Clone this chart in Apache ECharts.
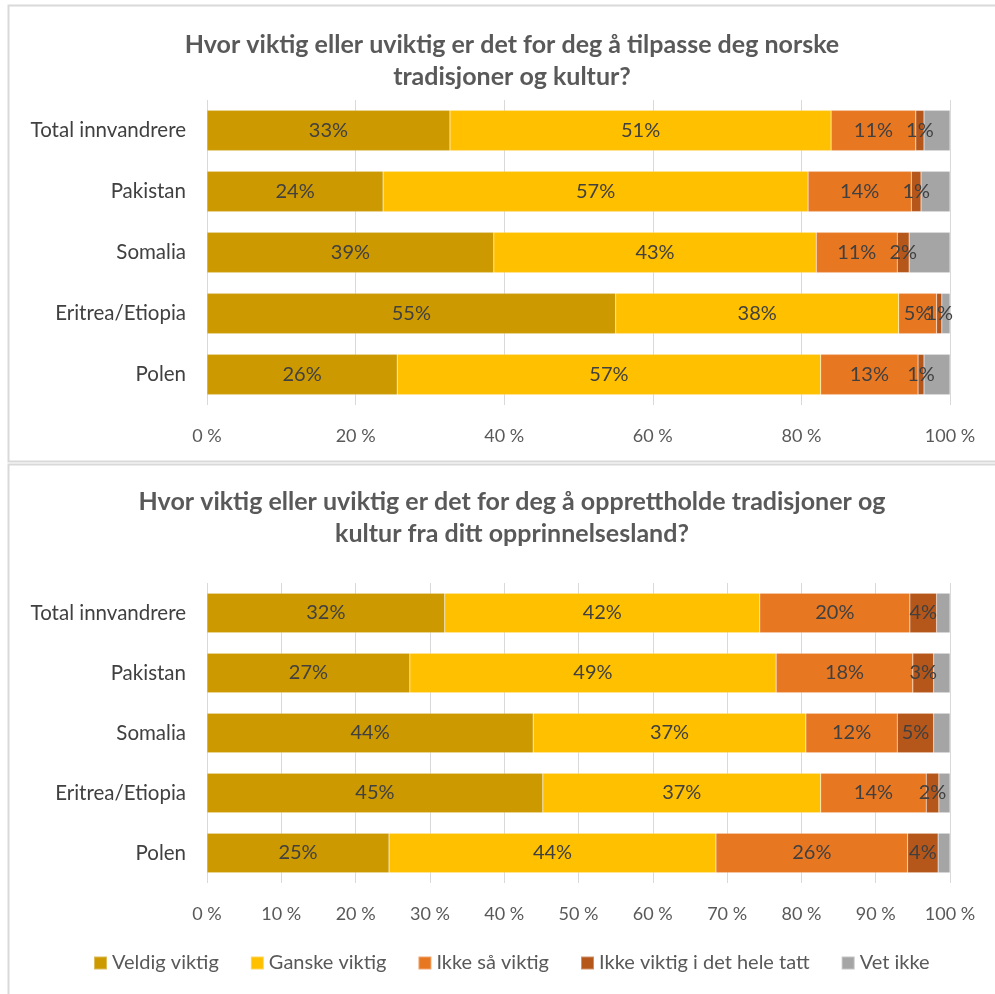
<!DOCTYPE html>
<html><head><meta charset="utf-8">
<script src="https://cdn.jsdelivr.net/npm/echarts@6/dist/echarts.min.js"></script>
<style>html,body{margin:0;padding:0;background:#fff}#c{width:995px;height:994px}</style>
</head><body><div id="c"></div>
<script>
const categories = ['Total innvandrere','Pakistan','Somalia','Eritrea/Etiopia','Polen'];
const seriesNames = ['Veldig viktig','Ganske viktig','Ikke så viktig','Ikke viktig i det hele tatt','Vet ikke'];
const colors = ['#CC9900','#FFC000','#E87722','#B5561A','#A5A5A5'];
const title1 = 'Hvor viktig eller uviktig er det for deg å tilpasse deg norske\ntradisjoner og kultur?';
const title2 = 'Hvor viktig eller uviktig er det for deg å opprettholde tradisjoner og\nkultur fra ditt opprinnelsesland?';
// Top chart values (%), per category order
const top_veldig  = [32.7, 23.7, 38.6, 55.0, 25.6];
const top_ganske  = [51.3, 57.2, 43.4, 38.1, 57.0];
const top_ikkeSaa = [11.4, 13.9, 10.9, 5.1, 13.1];
const top_ikke    = [1.1, 1.3, 1.6, 0.7, 0.8];
const top_vet     = [3.5, 3.9, 5.5, 1.1, 3.5];
// Bottom chart values (%)
const bot_veldig  = [32.0, 27.3, 43.9, 45.2, 24.5];
const bot_ganske  = [42.4, 49.3, 36.7, 37.4, 44.0];
const bot_ikkeSaa = [20.2, 18.4, 12.3, 14.2, 25.8];
const bot_ikke    = [3.6, 2.8, 4.9, 1.7, 4.1];
const bot_vet     = [1.8, 2.2, 2.2, 1.5, 1.6];
const topInterval = 20, botInterval = 10;

const FONT = 'Lato, "Open Sans", sans-serif';
const chart = echarts.init(document.getElementById('c'), null, {renderer:'canvas'});
const topData = [top_veldig, top_ganske, top_ikkeSaa, top_ikke, top_vet];
const botData = [bot_veldig, bot_ganske, bot_ikkeSaa, bot_ikke, bot_vet];

function mkSeries(data, idx) {
  return data.map((arr, i) => ({
    name: seriesNames[i], type: 'bar', stack: 's' + idx,
    xAxisIndex: idx, yAxisIndex: idx,
    barCategoryGap: '34%',
    data: arr,
    itemStyle: {color: colors[i], borderColor: 'rgba(255,255,255,0.35)', borderWidth: 0.5},
    label: {show: i < 4, position: 'inside', color: '#404040', fontSize: 20, fontFamily: FONT,
      formatter: p => Math.round(p.value) + '%'},
    emphasis: {disabled: true}
  }));
}
function xAx(idx, interval) {
  return {type:'value', gridIndex: idx, min:0, max:100, interval: interval,
    axisLine:{show:false}, axisTick:{show:false},
    splitLine:{show:true, lineStyle:{color:'#D9D9D9', width:1}},
    axisLabel:{formatter: v => v + ' %', color:'#595959', fontSize:18, fontFamily: FONT, margin: 22}};
}
function yAx(idx) {
  return {type:'category', gridIndex: idx, data: categories, inverse: true,
    axisLine:{show:false}, axisTick:{show:false},
    axisLabel:{color:'#404040', fontSize:20.5, fontFamily: FONT, margin: 21}};
}
chart.setOption({
  animation: false,
  textStyle: {fontFamily: FONT},
  title: [
    {text: title1, left: 507, textAlign: 'center', top: 24,
     textStyle:{fontSize:25, fontWeight:'bold', color:'#595959', lineHeight:32, fontFamily: FONT}},
    {text: title2, left: 507, textAlign: 'center', top: 481,
     textStyle:{fontSize:25, fontWeight:'bold', color:'#595959', lineHeight:32, fontFamily: FONT}}
  ],
  legend: {data: seriesNames, bottom: 16, left: 88, itemWidth: 13, itemHeight: 13, itemGap: 31,
    icon: 'rect', textStyle:{color:'#595959', fontSize:20, fontFamily: FONT}},
  grid: [
    {left: 207, right: 45, top: 100, height: 305},
    {left: 207, right: 45, top: 583, height: 300}
  ],
  xAxis: [xAx(0, topInterval), xAx(1, botInterval)],
  yAxis: [yAx(0), yAx(1)],
  series: mkSeries(topData, 0).concat(mkSeries(botData, 1)),
  graphic: [
    {type:'rect', shape:{x:8.5, y:5.5, width:1000, height:456}, style:{fill:'none', stroke:'#D9D9D9', lineWidth:2}, silent:true},
    {type:'rect', shape:{x:8.5, y:464.5, width:1000, height:540}, style:{fill:'none', stroke:'#D9D9D9', lineWidth:2}, silent:true}
  ]
});
</script></body></html>
